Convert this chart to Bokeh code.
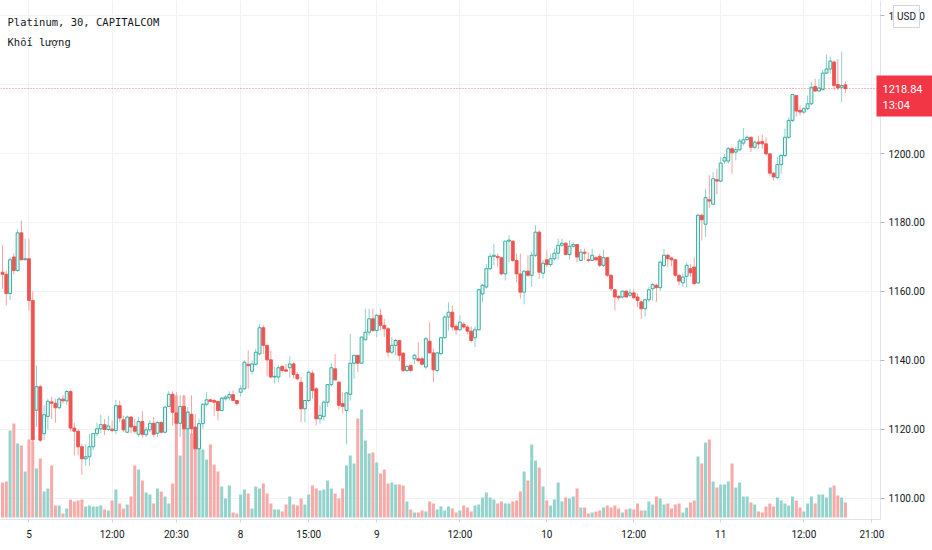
from bokeh.plotting import figure
from bokeh.models import ColumnDataSource, Range1d, FixedTicker, Grid, Label
from bokeh.core.properties import value
from bokeh.embed import file_html
from bokeh.resources import INLINE

# ---------------- data ----------------
opens = [
1165.6, 1165.0, 1159.4, 1170.0, 1166.1, 1177.0, 1169.2, 1169.5, 1157.4, 1125.6,
1132.4, 1118.8, 1123.8, 1128.0, 1127.6, 1126.3, 1128.8, 1128.3, 1131.0, 1120.4,
1119.5, 1115.0, 1111.5, 1112.1, 1115.0, 1118.8, 1120.2, 1121.4, 1120.0, 1120.1,
1119.7, 1126.9, 1122.8, 1119.2, 1123.6, 1120.9, 1118.6, 1122.3, 1118.5, 1119.9,
1121.8, 1118.9, 1122.0, 1119.2, 1126.7, 1130.2, 1124.8, 1121.8, 1126.7, 1120.2,
1124.4, 1120.7, 1114.4, 1121.7, 1127.3, 1128.6, 1128.4, 1128.1, 1125.5, 1128.9,
1129.2, 1130.1, 1128.4, 1130.8, 1131.8, 1138.9, 1136.9, 1138.9, 1141.9, 1149.5,
1144.4, 1140.2, 1135.2, 1135.2, 1138.3, 1137.3, 1137.9, 1139.0, 1135.9, 1133.7,
1126.0, 1128.4, 1136.3, 1131.8, 1123.1, 1123.8, 1127.9, 1133.0, 1137.6, 1133.7,
1127.5, 1125.5, 1130.2, 1139.2, 1141.5, 1139.2, 1146.0, 1148.2, 1152.1, 1148.7,
1153.1, 1150.2, 1149.2, 1142.4, 1144.4, 1145.8, 1142.1, 1137.1, 1138.6, 1140.5,
1140.5, 1140.5, 1138.1, 1145.6, 1142.2, 1137.1, 1142.0, 1146.6, 1152.6, 1154.0,
1149.9, 1148.9, 1150.5, 1149.7, 1148.5, 1146.6, 1148.9, 1159.3, 1161.3, 1166.6,
1170.2, 1170.2, 1169.8, 1165.1, 1174.6, 1174.6, 1169.0, 1165.1, 1159.8, 1165.9,
1164.7, 1170.5, 1177.2, 1165.3, 1169.2, 1167.8, 1169.5, 1171.1, 1173.4, 1174.0,
1170.7, 1173.1, 1173.6, 1169.0, 1171.4, 1169.2, 1169.0, 1169.8, 1170.2, 1167.6,
1169.8, 1164.7, 1160.5, 1158.6, 1158.4, 1160.1, 1158.9, 1159.6, 1158.4, 1157.0,
1155.0, 1157.6, 1160.8, 1161.8, 1161.1, 1167.5, 1170.5, 1169.7, 1169.2, 1164.7,
1162.5, 1164.4, 1166.6, 1167.1, 1162.5, 1182.1, 1179.5, 1186.6, 1185.3, 1192.4,
1192.0, 1197.8, 1197.8, 1201.4, 1200.4, 1201.1, 1203.0, 1204.0, 1204.7, 1201.8,
1203.3, 1203.5, 1202.8, 1199.9, 1194.3, 1193.0, 1196.8, 1199.4, 1204.7, 1209.6,
1216.8, 1212.5, 1212.0, 1213.0, 1214.4, 1219.4, 1218.1, 1218.5, 1223.3, 1224.5,
1226.5, 1220.0, 1219.2, 1219.9]

highs = [
1173.4, 1166.0, 1170.0, 1171.0, 1178.0, 1180.6, 1175.3, 1175.3, 1160.0, 1138.5,
1133.0, 1127.0, 1129.0, 1129.5, 1128.9, 1129.5, 1130.0, 1131.5, 1131.5, 1122.0,
1120.0, 1115.7, 1115.7, 1118.8, 1119.0, 1122.0, 1124.3, 1123.0, 1124.0, 1122.6,
1128.6, 1128.4, 1124.0, 1124.0, 1124.0, 1123.1, 1123.6, 1125.3, 1120.7, 1122.6,
1123.6, 1122.4, 1122.4, 1126.7, 1131.1, 1131.1, 1130.8, 1129.9, 1129.9, 1126.5,
1129.9, 1124.4, 1123.1, 1127.7, 1130.8, 1128.9, 1128.9, 1128.4, 1129.4, 1129.9,
1131.1, 1131.3, 1128.6, 1132.8, 1140.0, 1142.9, 1140.0, 1143.4, 1150.6, 1150.2,
1144.4, 1142.9, 1138.1, 1138.6, 1138.6, 1139.0, 1141.2, 1139.5, 1136.6, 1135.2,
1128.6, 1137.1, 1137.1, 1132.3, 1127.0, 1128.4, 1133.2, 1139.2, 1141.9, 1134.2,
1130.8, 1130.8, 1147.7, 1141.5, 1141.5, 1146.8, 1155.0, 1155.0, 1155.0, 1153.5,
1155.0, 1152.1, 1149.7, 1146.8, 1146.3, 1145.8, 1142.4, 1138.6, 1138.6, 1142.0,
1145.3, 1141.0, 1146.8, 1151.1, 1143.4, 1142.4, 1146.8, 1153.1, 1156.9, 1156.0,
1150.7, 1153.1, 1151.1, 1150.2, 1149.9, 1149.9, 1160.8, 1162.2, 1168.0, 1171.1,
1173.8, 1171.1, 1169.8, 1174.6, 1176.3, 1174.8, 1171.0, 1171.0, 1166.1, 1170.5,
1171.4, 1179.2, 1177.7, 1169.2, 1171.9, 1170.9, 1172.4, 1175.3, 1175.3, 1174.3,
1174.8, 1174.3, 1173.8, 1172.4, 1172.4, 1171.4, 1172.4, 1170.2, 1171.0, 1172.1,
1170.0, 1165.1, 1160.8, 1158.9, 1160.3, 1160.5, 1160.8, 1160.8, 1159.4, 1157.4,
1157.9, 1161.3, 1162.5, 1162.3, 1169.0, 1172.4, 1171.0, 1170.0, 1169.5, 1165.0,
1165.2, 1168.3, 1168.0, 1170.0, 1182.6, 1182.6, 1189.8, 1193.7, 1194.6, 1195.6,
1199.0, 1199.9, 1201.9, 1201.9, 1201.9, 1204.3, 1207.4, 1205.2, 1204.9, 1203.8,
1205.2, 1205.5, 1204.7, 1199.9, 1194.6, 1199.0, 1199.9, 1207.2, 1210.5, 1217.3,
1216.8, 1213.9, 1213.4, 1216.8, 1220.7, 1221.6, 1221.6, 1224.3, 1228.7, 1228.1,
1227.0, 1227.4, 1229.4, 1220.9]

lows = [
1160.8, 1156.0, 1157.5, 1165.0, 1165.6, 1169.0, 1169.0, 1154.5, 1116.0, 1120.7,
1116.4, 1117.0, 1120.0, 1123.0, 1122.0, 1126.0, 1127.5, 1127.0, 1119.4, 1112.5,
1112.5, 1106.8, 1109.5, 1109.5, 1114.0, 1118.0, 1119.0, 1118.4, 1119.5, 1119.2,
1118.6, 1122.1, 1119.2, 1118.9, 1118.9, 1118.8, 1117.8, 1117.6, 1117.8, 1119.2,
1117.8, 1117.8, 1118.8, 1118.8, 1126.5, 1121.2, 1117.8, 1117.8, 1119.2, 1118.3,
1117.8, 1113.9, 1113.9, 1120.2, 1126.7, 1127.9, 1124.0, 1122.6, 1125.3, 1128.4,
1128.4, 1128.2, 1127.0, 1129.6, 1131.5, 1131.8, 1135.9, 1138.6, 1141.5, 1141.9,
1135.4, 1135.0, 1133.4, 1133.7, 1136.6, 1136.6, 1135.0, 1134.7, 1134.2, 1122.1,
1122.1, 1127.9, 1128.9, 1121.2, 1121.7, 1122.6, 1126.5, 1132.5, 1134.2, 1125.7,
1124.6, 1115.7, 1128.4, 1134.7, 1136.6, 1139.0, 1145.8, 1147.3, 1148.2, 1146.8,
1148.7, 1146.8, 1141.0, 1141.9, 1141.5, 1139.8, 1136.6, 1136.6, 1136.6, 1139.0,
1139.5, 1138.6, 1137.6, 1142.0, 1133.7, 1136.6, 1141.5, 1146.3, 1148.7, 1148.7,
1147.3, 1148.7, 1149.2, 1147.6, 1145.3, 1143.9, 1148.7, 1156.9, 1160.8, 1166.1,
1167.6, 1167.1, 1164.7, 1163.2, 1168.5, 1168.5, 1162.7, 1157.9, 1156.3, 1164.2,
1161.3, 1170.0, 1163.7, 1163.7, 1167.1, 1167.1, 1169.0, 1169.2, 1172.9, 1170.5,
1169.2, 1172.7, 1168.5, 1168.8, 1169.0, 1168.5, 1168.8, 1168.8, 1167.1, 1167.1,
1164.2, 1160.1, 1154.5, 1157.4, 1157.9, 1158.2, 1158.4, 1157.9, 1155.5, 1152.1,
1152.8, 1157.0, 1157.4, 1157.0, 1160.1, 1167.1, 1167.1, 1167.3, 1164.2, 1161.8,
1161.3, 1161.3, 1164.2, 1161.8, 1162.3, 1174.8, 1175.8, 1184.3, 1185.0, 1188.2,
1191.7, 1197.0, 1197.0, 1194.1, 1198.0, 1200.7, 1202.3, 1203.8, 1200.4, 1201.4,
1201.4, 1201.4, 1199.4, 1193.6, 1192.2, 1192.7, 1194.1, 1198.9, 1204.3, 1209.1,
1210.7, 1211.0, 1211.5, 1212.5, 1213.9, 1217.8, 1217.8, 1218.3, 1223.1, 1223.1,
1218.3, 1218.3, 1214.9, 1217.5]

closes = [
1165.0, 1159.4, 1169.2, 1166.1, 1177.0, 1169.2, 1169.5, 1157.4, 1117.0, 1132.4,
1116.9, 1124.3, 1128.2, 1127.6, 1126.3, 1128.8, 1128.3, 1131.0, 1120.4, 1119.5,
1115.0, 1111.5, 1112.1, 1115.0, 1118.8, 1120.2, 1121.4, 1120.0, 1121.0, 1119.7,
1126.9, 1123.3, 1119.9, 1123.6, 1120.7, 1119.5, 1122.3, 1118.6, 1119.9, 1121.8,
1118.6, 1122.0, 1119.2, 1126.5, 1130.2, 1125.0, 1121.8, 1126.7, 1120.2, 1125.0,
1120.2, 1114.4, 1121.7, 1127.3, 1128.6, 1128.1, 1127.9, 1125.5, 1129.1, 1129.4,
1130.1, 1128.4, 1127.5, 1131.8, 1139.5, 1138.5, 1139.0, 1142.4, 1149.5, 1144.4,
1140.2, 1135.2, 1135.4, 1137.9, 1137.1, 1136.9, 1139.0, 1135.9, 1134.7, 1126.0,
1128.4, 1136.6, 1131.3, 1123.1, 1124.1, 1127.9, 1133.0, 1137.9, 1134.4, 1127.0,
1126.7, 1130.6, 1139.2, 1141.5, 1139.2, 1146.8, 1148.2, 1152.1, 1148.7, 1153.1,
1150.2, 1149.2, 1142.4, 1144.4, 1145.8, 1141.5, 1137.1, 1138.3, 1137.1, 1141.5,
1140.0, 1138.9, 1146.3, 1142.2, 1137.3, 1142.2, 1146.6, 1152.6, 1154.0, 1149.7,
1148.9, 1151.1, 1149.7, 1148.5, 1145.8, 1148.9, 1160.5, 1161.8, 1166.6, 1170.2,
1170.5, 1169.8, 1165.1, 1174.6, 1174.9, 1169.0, 1165.1, 1159.8, 1165.9, 1164.7,
1170.5, 1177.2, 1165.6, 1168.2, 1167.8, 1169.5, 1171.1, 1173.4, 1174.0, 1170.7,
1173.1, 1173.6, 1170.0, 1171.4, 1171.1, 1169.0, 1170.5, 1169.2, 1167.6, 1169.8,
1164.7, 1160.8, 1158.4, 1158.2, 1160.1, 1158.4, 1159.6, 1158.2, 1157.4, 1155.0,
1157.6, 1160.5, 1162.0, 1161.1, 1168.5, 1170.5, 1169.5, 1169.2, 1164.7, 1163.0,
1164.2, 1167.6, 1165.4, 1162.3, 1182.1, 1180.8, 1187.2, 1186.2, 1192.7, 1192.0,
1197.2, 1198.8, 1201.4, 1200.2, 1201.1, 1203.6, 1204.0, 1204.7, 1201.8, 1203.3,
1202.8, 1202.8, 1199.9, 1194.3, 1193.2, 1196.8, 1199.4, 1204.7, 1209.6, 1217.1,
1212.3, 1212.0, 1213.0, 1214.4, 1219.2, 1218.1, 1219.0, 1223.3, 1224.5, 1226.8,
1219.7, 1219.0, 1219.7, 1218.84]

volumes = [
35, 36, 87, 94, 74, 72, 46, 78, 76, 49,
59, 26, 29, 52, 12, 12, 4, 9, 18, 16,
17, 18, 11, 12, 11, 11, 12, 8, 7, 17,
28, 14, 9, 13, 21, 52, 48, 37, 25, 23,
14, 29, 26, 21, 14, 34, 122, 62, 122, 106,
84, 90, 77, 68, 58, 73, 53, 46, 31, 19,
32, 5, 4, 23, 28, 24, 9, 31, 29, 34,
24, 14, 8, 8, 6, 13, 21, 13, 12, 19,
13, 23, 32, 29, 27, 28, 37, 29, 24, 19,
29, 52, 62, 54, 99, 108, 77, 64, 65, 55,
44, 48, 34, 35, 33, 33, 32, 16, 8, 5,
5, 7, 6, 16, 14, 8, 11, 7, 11, 9,
5, 7, 12, 10, 6, 12, 13, 20, 25, 20,
18, 14, 16, 14, 14, 16, 17, 26, 46, 37,
73, 57, 50, 31, 17, 12, 18, 35, 16, 20,
19, 21, 29, 10, 10, 4, 5, 6, 7, 10,
12, 10, 12, 9, 5, 8, 9, 8, 14, 7,
7, 16, 13, 21, 19, 13, 14, 9, 13, 14,
5, 10, 15, 17, 61, 54, 75, 78, 36, 30,
33, 33, 36, 54, 30, 35, 21, 21, 15, 13,
6, 5, 11, 14, 11, 20, 17, 14, 12, 21,
17, 10, 6, 14, 21, 14, 23, 23, 20, 30,
32, 22, 20, 15]

tick_bars = [7, 29, 46, 63, 81, 99, 121, 144, 167, 190, 212, 230]
tick_labels = ["5", "12:00", "20:30", "8", "15:00", "9", "12:00", "10", "12:00", "11", "12:00", "21:00"]
price_ticks = [1100, 1120, 1140, 1160, 1180, 1200, 1220, 1240]
last_price = 1218.84
countdown = "13:04"
currency = "USD"
title_text = "Platinum, 30, CAPITALCOM"
volume_text = "Khối lượng"

# ---------------- styling ----------------
UP = "#26a69a"
DN = "#ef5350"
UP_FILL = "#e6f5f3"
UP_WICK = "#8ed2cb"
DN_WICK = "#f6a4a3"
UP_VOL = "#93d3cc"
DN_VOL = "#f7aaa8"
TXT = "#131722"
BORDER = "#e0e3eb"
GRID = "#f0f2f5"
TAG = "#f23645"

n = len(closes)
idx = list(range(n))
is_up = [c >= o for o, c in zip(opens, closes)]
src = ColumnDataSource(dict(
    i=idx,
    o=opens, h=highs, l=lows, c=closes,
    top=[max(o, c) for o, c in zip(opens, closes)],
    bot=[min(o, c) for o, c in zip(opens, closes)],
    v=volumes,
    fill=[UP_FILL if u else DN for u in is_up],
    line=[UP if u else DN for u in is_up],
    wick=[UP_WICK if u else DN_WICK for u in is_up],
    vcol=[UP_VOL if u else DN_VOL for u in is_up],
))

# layout: the frame spans the whole width; the right 52 px hold the price scale
W, H = 932, 550
BB = 31
SCALE_W = 52
FW, FH = W, H - BB
CHART_W = FW - SCALE_W
X0, XS = -0.53, 232.28                   # visible bar range of the chart part
PX = (XS - X0) / CHART_W                 # data units per pixel (x)
X1 = XS + SCALE_W * PX
Y0, Y1 = 1093.91, 1244.35
PY = (Y1 - Y0) / FH                      # price units per pixel (y)

p = figure(width=W, height=H, x_range=Range1d(X0, X1), y_range=Range1d(Y0, Y1),
           y_axis_location=None, toolbar_location=None, output_backend="svg",
           min_border_left=0, min_border_top=0, min_border_right=0, min_border_bottom=BB)
p.outline_line_color = None
p.background_fill_color = "white"
p.border_fill_color = "white"
p.extra_y_ranges = {"vol": Range1d(-2, 517)}

p.add_layout(Grid(dimension=1, ticker=FixedTicker(ticks=price_ticks), grid_line_color=GRID))

# volume
p.vbar(x="i", top="v", bottom=0, width=0.8, y_range_name="vol",
       fill_color="vcol", line_color=None, source=src)
# wicks
p.segment(x0="i", y0="l", x1="i", y1="h", line_color="wick", line_width=1, source=src)
# bodies
p.vbar(x="i", top="top", bottom="bot", width=0.78, fill_color="fill",
       line_color="line", line_width=0.9, source=src)

# last price line (chart part only)
p.segment(x0=[X0], x1=[XS], y0=[last_price], y1=[last_price], line_color=TAG,
          line_dash="1 2", line_width=1, line_alpha=0.7)

# ---- price scale (right) ----
p.quad(left=[XS], right=[X1], bottom=[Y0], top=[Y1], fill_color="white", line_color=None)
p.segment(x0=[XS], x1=[XS], y0=[Y0], y1=[Y1], line_color=BORDER, line_width=1)
p.segment(x0=[XS] * len(price_ticks), x1=[XS + 4 * PX] * len(price_ticks),
          y0=price_ticks, y1=price_ticks, line_color="#b2b5be", line_width=1)
p.text(x=[XS + 8 * PX] * len(price_ticks), y=price_ticks,
       text=[f"{t:.2f}" for t in price_ticks], text_font=value("Roboto"),
       text_font_size="10px", text_color=TXT, text_align="left", text_baseline="middle")

# last price tag
p.quad(left=[XS - 4 * PX], right=[X1], top=[last_price + 13 * PY], bottom=[last_price - 28 * PY],
       fill_color=TAG, line_color=None)
p.text(x=[XS + 2 * PX, XS + 2 * PX], y=[last_price, last_price - 17 * PY],
       text=[f"{last_price:.2f}", countdown], text_font=value("Roboto"),
       text_font_size="11px", text_color="white", text_align="left", text_baseline="middle")

# currency button
ucx, ucy = XS + 26 * PX, Y1 - 16 * PY
p.rect(x=[ucx], y=[ucy], width=26 * PX, height=22 * PY, fill_color="white",
       line_color="#d1d4dc", line_width=1)
p.text(x=[ucx], y=[ucy], text=[currency], text_font=value("Roboto"), text_font_size="10px",
       text_color=TXT, text_align="center", text_baseline="middle")

# ---- time axis ----
xa = p.xaxis[0]
xa.ticker = FixedTicker(ticks=tick_bars)
xa.major_label_overrides = {t: lab for t, lab in zip(tick_bars, tick_labels)}
xa.bounds = (X0, XS)
xa.minor_tick_line_color = None
xa.major_tick_out = 3
xa.major_tick_in = 0
xa.major_tick_line_color = "#d1d4dc"
xa.axis_line_color = BORDER
xa.major_label_text_font = "Roboto"
xa.major_label_text_font_size = "10px"
xa.major_label_text_color = TXT
xa.major_label_standoff = 6
p.xgrid.grid_line_color = GRID

# header labels
p.add_layout(Label(x=7, y=21, x_units="canvas", y_units="canvas", text=title_text,
                   text_font="DejaVu Sans Mono", text_font_size="10.5px", text_color=TXT,
                   text_baseline="middle"))
p.add_layout(Label(x=7, y=41, x_units="canvas", y_units="canvas", text=volume_text,
                   text_font="DejaVu Sans Mono", text_font_size="10.5px", text_color=TXT,
                   text_baseline="middle"))

open("out.html", "w").write(file_html(p, INLINE))
